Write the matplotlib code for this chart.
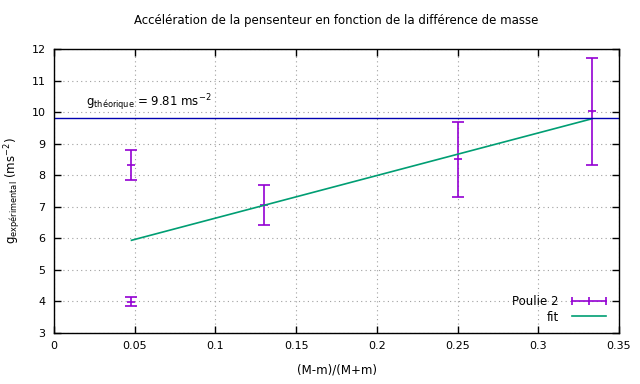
import numpy as np
import matplotlib.pyplot as plt
from matplotlib.lines import Line2D

# data : Poulie 2
x = [0.048, 0.048, 0.130, 0.250, 0.333]
g = [8.33, 3.99, 7.06, 8.50, 10.02]
dg = [0.48, 0.14, 0.63, 1.18, 1.69]

# fit g = a*x + b
fit_a = 13.5
fit_b = 5.29
g_theo = 9.81

xticks = [0, 0.05, 0.1, 0.15, 0.2, 0.25, 0.3, 0.35]
yticks = [3, 4, 5, 6, 7, 8, 9, 10, 11, 12]

purple = '#9400d3'
green = '#009e73'

plt.rcParams['font.family'] = ['DejaVu Sans']
plt.rcParams['font.size'] = 8

fig = plt.figure(figsize=(6.4, 3.84), dpi=100)
ax = fig.add_axes([54/640, 1-333/384, 565/640, 284/384])

ax.errorbar(x, g, yerr=dg, fmt='none', ecolor=purple, elinewidth=1.2,
            capsize=4, capthick=1.2)
# small tick at the centre value, like gnuplot
ax.plot(x, g, linestyle='none', marker='_', markersize=6, mew=1.2, color=purple)

xf = np.array([min(x), max(x)])
ax.plot(xf, fit_a*xf + fit_b, color=green, lw=1.2)

ax.axhline(g_theo, color='#0000b0', lw=1.0)
ax.text(0.02, 10.2, r'g$_{\mathrm{théorique}}$ = 9.81 ms$^{-2}$', fontsize=8.5)

ax.set_xlim(0, 0.35)
ax.set_ylim(3, 12)
ax.set_xticks(xticks)
ax.set_xticklabels([f'{t:g}' for t in xticks])
ax.set_yticks(yticks)
ax.tick_params(direction='in', top=True, right=True, length=5, width=1, pad=6)
ax.grid(True, color='#a0a0a0', linestyle=(0, (1, 3)), lw=0.8)
for s in ax.spines.values():
    s.set_linewidth(1.0)

ax.set_title('Accélération de la pensenteur en fonction de la différence de masse',
             fontsize=8.5, pad=18)
ax.set_xlabel('(M-m)/(M+m)', fontsize=8.5, labelpad=9)
ax.set_ylabel(r'g$_{\mathrm{expérimental}}$ (ms$^{-2}$)', fontsize=8.5, labelpad=6)

# gnuplot style key: label first, sample on the right
h_err = Line2D([], [], color=purple, lw=1.2, marker='|', markersize=6, mew=1.2)
h_fit = Line2D([], [], color=green, lw=1.2)
ax.legend([h_err, h_fit], ['Poulie 2', 'fit'], loc='lower right', frameon=False,
          markerfirst=False, fontsize=8.5, numpoints=3, handlelength=3.5,
          borderaxespad=0.4, labelspacing=0.2)

fig.savefig('out.png', dpi=100)
